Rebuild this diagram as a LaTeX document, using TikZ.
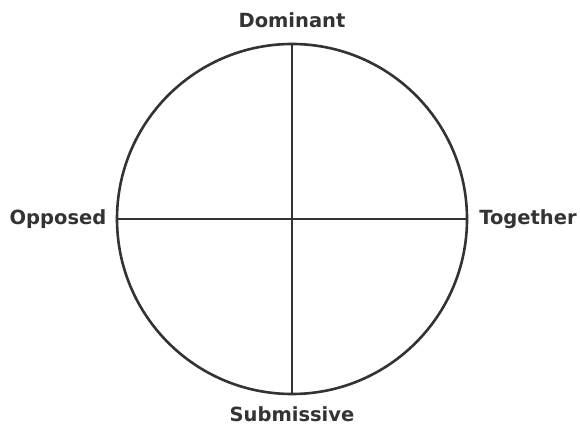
\documentclass[tikz,border=0pt]{standalone}
\usepackage{fontspec}
\setmainfont{DejaVu Sans}
\usetikzlibrary{positioning}
\definecolor{ink}{HTML}{333333}

\begin{document}
\begin{tikzpicture}[x=1pt,y=-1pt]
    \tikzset{axis/.style={draw=ink,line width=2.6pt},
             lbl/.style={text=ink,font=\fontsize{19.5}{22}\selectfont\bfseries,inner sep=0pt}}
    \useasboundingbox (0,0) rectangle (580,427);

    \node[shape=circle,axis,minimum size=350pt,inner sep=0pt] (C) at (292,219) {};

    \node[lbl] (D) at (292,20) {Dominant};
    \node[lbl] (S) at (292,414) {Submissive};
    \node[lbl] (O) at (58,219) {Opposed};
    \node[lbl] (T) at (528,219) {Together};

    \path [axis] (C.north) edge (C.south);
    \path [axis] (C.west) edge (C.east);
\end{tikzpicture}
\end{document}
